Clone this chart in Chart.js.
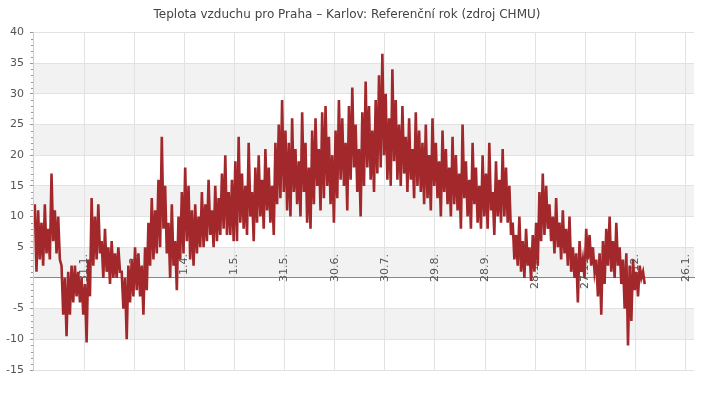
<!DOCTYPE html>
<html><head><meta charset="utf-8">
<script src="https://cdn.jsdelivr.net/npm/chart.js@4/dist/chart.umd.min.js"></script>
<style>html,body{margin:0;padding:0;background:#fff}#w{width:720px;height:400px}</style>
</head><body><div id="w"><canvas id="c"></canvas></div>
<script>
const titleText = "Teplota vzduchu pro Praha – Karlov: Referenční rok (zdroj CHMU)";
const tickDays = [30,60,90,120,150,180,210,240,270,300,330,360,390];
const tickLabels = ["31.1.","2.3.","1.4.","1.5.","31.5.","30.6.","30.7.","29.8.","28.9.","28.10.","27.11.","27.12.","26.1."];
// two-day bins: daily-high envelope and daily-low envelope
const highs = [12,11,9,12,8,17,11,10,2,0,1,2,2,1,0,-1,
3,13,10,12,6,8,5,6,4,5,
1,0,2,3,5,4,2,5,
9,13,11,16,23,15,
9,12,6,10,14,18,15,11,
12,10,14,12,16,11,15,13,17,20,14,16,
19,23,17,15,22,14,18,20,16,21,18,15,
22,25,29,24,22,26,21,19,27,
22,18,24,26,21,27,28,23,20,
24,29,26,22,28,31,25,21,27,32,28,24,29,
33,36.5,30,26,34,29,25,
28,23,26,21,27,24,22,25,20,26,22,19,24,21,18,
23,20,17,25,19,16,22,18,15,
20,17,22,14,19,16,21,18,15,
9,7,10,6,8,5,7,9,
14,17,15,12,10,13,9,11,8,10,
5,4,6,3,8,7,5,3,4,6,
8,10,6,9,5,3,4,2,3,1,2,1];
const lows = [1,3,2,4,3,6,4,3,-6,-9.5,-6,-4,-3,-4,-6,-10.5,
-3,2,3,4,0,1,-1,0,0,1,
-5,-10,-4,-3,-2,-3,-6,-2,
2,3,4,5,8,4,
0,2,-2,3,4,6,3,2,
4,5,5,6,7,5,6,7,8,7,7,6,
6,9,8,7,10,6,9,10,8,11,9,7,
12,13,14,11,10,14,12,10,14,
9,8,12,15,11,13,15,12,9,
13,16,15,11,16,18,14,10,15,18,16,14,17,
18,20,16,15,19,16,15,
17,14,16,13,15,14,12,13,11,15,13,10,14,12,10,
12,11,8,13,10,8,12,9,8,
10,8,11,7,10,9,10,9,7,
3,2,1,0,2,-0.5,1,2,
6,7,8,6,4,5,3,4,2,1,
0,-4,1,0,3,2,1,-3,-6,-1,
2,1,0,2,-1,-5,-11,-7,-2,-3,0,-1];
const pts = [];
for (let k = 0; k < highs.length; k++) {
  pts.push({x: 2*k + 0.5, y: highs[k]});
  pts.push({x: 2*k + 1.5, y: lows[k]});
}
const bands = {
  id: 'bands',
  beforeDraw(chart) {
    const {ctx, chartArea: a, scales: {y}} = chart;
    ctx.save();
    ctx.fillStyle = '#f2f2f2';
    for (let v = -10; v < 40; v += 10) {
      const t = y.getPixelForValue(v + 5), b = y.getPixelForValue(v);
      ctx.fillRect(a.left, t, a.right - a.left, b - t);
    }
    ctx.strokeStyle = '#999'; ctx.lineWidth = 1;
    for (let v = -15; v <= 40; v++) {
      if (v % 5 === 0) continue;
      const p = Math.round(y.getPixelForValue(v)) + 0.5;
      ctx.beginPath(); ctx.moveTo(a.left - 3, p); ctx.lineTo(a.left, p); ctx.stroke();
    }
    ctx.restore();
  }
};
new Chart(document.getElementById('c'), {
  type: 'line',
  data: {datasets: [{data: pts, borderColor: '#a3282b', borderWidth: 2.6, pointRadius: 0, tension: 0, fill: false}]},
  options: {
    responsive: true, maintainAspectRatio: false, animation: false,
    layout: {padding: {left: 0, right: 26, top: 3, bottom: 30}},
    plugins: {
      legend: {display: false}, tooltip: {enabled: false},
      title: {display: true, text: titleText, color: '#444', font: {family: 'DejaVu Sans', size: 12, weight: 'normal'}, padding: {top: 5, bottom: 10}}
    },
    scales: {
      x: {
        type: 'linear', min: 0, max: 395, position: {y: 0},
        afterBuildTicks: s => { s.ticks = tickDays.map(v => ({value: v})); },
        ticks: {minRotation: 90, maxRotation: 90, padding: -24, color: '#555', font: {family: 'DejaVu Sans', size: 11},
          callback: (v) => tickLabels[tickDays.indexOf(v)]},
        grid: {color: '#e2e2e2', drawTicks: false},
        border: {color: '#888'}
      },
      y: {
        min: -15, max: 40,
        ticks: {stepSize: 5, color: '#555', padding: 6, font: {family: 'DejaVu Sans', size: 11}, callback: v => v === 0 ? '' : v},
        grid: {color: '#e2e2e2', drawTicks: true, tickLength: 4, tickColor: '#999'},
        border: {color: '#ccc'}
      }
    }
  },
  plugins: [bands]
});
</script></body></html>
